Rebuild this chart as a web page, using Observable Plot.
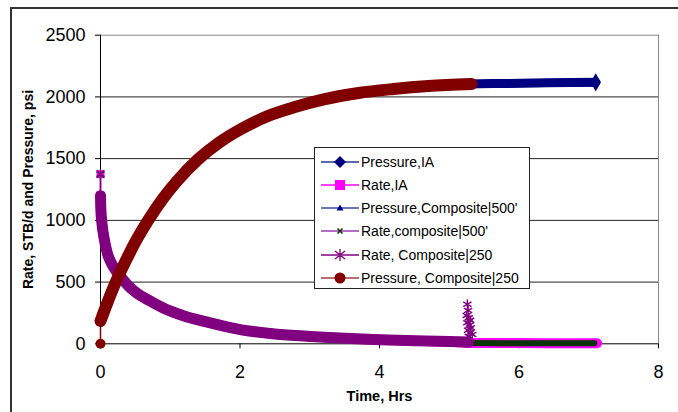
<!DOCTYPE html>
<html><head><meta charset="utf-8">
<script src="https://cdn.jsdelivr.net/npm/d3@7"></script>
<script src="https://cdn.jsdelivr.net/npm/@observablehq/plot@0.6"></script>
<style>
body{margin:0;background:#fff;font-family:"Liberation Sans",Arial,sans-serif;}
#wrap{position:relative;width:678px;height:412px;overflow:hidden;background:#fff;}
#border{position:absolute;left:10px;top:7px;width:800px;height:600px;border-left:2px solid #333;border-top:2px solid #333;}
#chart{position:absolute;left:0;top:0;}
#legend{position:absolute;left:314px;top:147px;width:216px;height:142px;border:1px solid #222;background:#fff;box-sizing:border-box;}
.row{position:absolute;left:0;height:20px;font-size:14px;color:#000;white-space:nowrap;}
.row svg{position:absolute;left:5px;top:0;}
.row span{position:absolute;left:46px;top:2px;line-height:16px;}
</style></head>
<body>
<div id="wrap"><div id="border"></div><div id="chart"></div><div id="legend"></div></div>
<script>
// ---- data ----
const xTicks = [0, 2, 4, 6, 8];
const yTicks = [0, 500, 1000, 1500, 2000, 2500];

// Pressure, Composite|250 (psi)
const pTime250 = [0, 0, 0.1, 0.2, 0.3, 0.4, 0.5, 0.7, 0.9, 1.1, 1.4, 1.7, 2.0, 2.4, 2.8, 3.2, 3.7, 4.2, 4.7, 5.32];
const pVal250  = [0, 185, 335, 475, 600, 715, 825, 1015, 1180, 1320, 1495, 1630, 1735, 1845, 1920, 1980, 2032, 2064, 2088, 2105];

// Pressure, IA (psi)
const pTimeIA = [0, 0, 0.1, 0.2, 0.3, 0.4, 0.5, 0.7, 0.9, 1.1, 1.4, 1.7, 2.0, 2.4, 2.8, 3.2, 3.7, 4.2, 4.7, 5.3, 5.8, 6.4, 7.1];
const pValIA  = [0, 185, 335, 475, 600, 715, 825, 1015, 1180, 1320, 1497, 1633, 1740, 1850, 1926, 1987, 2038, 2070, 2093, 2105, 2109, 2114, 2118];

// Pressure, Composite|500' (psi)
const pTime500 = [0, 0, 0.1, 0.2, 0.3, 0.4, 0.5, 0.7, 0.9, 1.1, 1.4, 1.7, 2.0, 2.4, 2.8, 3.2, 3.7, 4.2, 4.7, 5.3, 5.8, 6.4, 7.1];
const pVal500  = [0, 185, 335, 475, 600, 715, 825, 1015, 1180, 1320, 1496, 1632, 1738, 1848, 1924, 1984, 2036, 2068, 2091, 2104, 2108, 2113, 2117];

// Rate, Composite|250 (STB/d)
const qTime250 = [0, 0, 0.005, 0.02, 0.05, 0.1, 0.15, 0.2, 0.3, 0.4, 0.5, 0.7, 0.9, 1.2, 1.5, 2.0, 2.5, 3.0, 3.5, 4.0, 4.5, 5.0, 5.28];
const qVal250  = [1375, 1200, 1090, 980, 860, 730, 660, 610, 535, 470, 420, 350, 290, 225, 180, 115, 80, 60, 45, 33, 25, 18, 15];
// Rate, Composite|250 – restart spike near 5.3 hr
const spikeTime = [5.26, 5.27, 5.25, 5.28, 5.30, 5.26, 5.29, 5.31, 5.27, 5.30, 5.33, 5.28];
const spikeVal  = [320, 270, 230, 210, 190, 170, 150, 130, 110, 90, 75, 60];

// Rate, IA (STB/d)
const qTimeIA = [0, 0, 0.005, 0.02, 0.05, 0.1, 0.15, 0.2, 0.3, 0.4, 0.5, 0.7, 0.9, 1.2, 1.5, 2.0, 2.5, 3.0, 3.5, 4.0, 4.5, 5.0, 5.3, 5.8, 6.4, 7.12];
const qValIA  = [1375, 1200, 1090, 980, 860, 730, 660, 610, 535, 470, 420, 350, 290, 225, 180, 115, 80, 60, 45, 33, 25, 18, 7, 6, 5, 5];

// Rate, composite|500' (STB/d)
const qTime500 = [0, 0, 0.005, 0.02, 0.05, 0.1, 0.15, 0.2, 0.3, 0.4, 0.5, 0.7, 0.9, 1.2, 1.5, 2.0, 2.5, 3.0, 3.5, 4.0, 4.5, 5.0, 5.3, 5.8, 6.4, 7.08];
const qVal500  = [1375, 1200, 1090, 980, 860, 730, 660, 610, 535, 470, 420, 350, 290, 225, 180, 115, 80, 60, 45, 33, 25, 18, 6, 5, 5, 5];

const seriesNames = ["Pressure,IA", "Rate,IA", "Pressure,Composite|500'", "Rate,composite|500'", "Rate, Composite|250", "Pressure, Composite|250"];

// ---- build tables ----
const tbl = (ts, vs) => ts.map((t, i) => ({t, v: vs[i]}));
const P250 = tbl(pTime250, pVal250), PIA = tbl(pTimeIA, pValIA), P500 = tbl(pTime500, pVal500);
const Q250 = tbl(qTime250, qVal250), QIA = tbl(qTimeIA, qValIA), Q500 = tbl(qTime500, qVal500);
const SP = tbl(spikeTime, spikeVal);

const NAVY = "#000080", MAG = "#ff00ff", PURP = "#800080", GREEN = "#0a3300", RED = "#800000";

const chart = Plot.plot({
  width: 678, height: 412,
  marginLeft: 100, marginRight: 20, marginTop: 34.7, marginBottom: 68.7,
  style: {fontFamily: "'Liberation Sans', Arial, sans-serif", background: "transparent", color: "#000"},
  x: {domain: [0, 8]},
  y: {domain: [0, 2500]},
  marks: [
    Plot.ruleY(yTicks.filter(v => v > 0 && v < 2500), {stroke: "#222", strokeWidth: 1}),
    Plot.ruleY([2500], {stroke: "#888"}),
    Plot.ruleX([8], {stroke: "#888"}),
    Plot.axisY({ticks: yTicks, tickFormat: d => String(d), tickSize: 5, tickPadding: 10, fontSize: 18, label: null}),
    Plot.axisX({ticks: xTicks, tickFormat: d => String(d), tickSize: 5, tickPadding: 16, fontSize: 18, label: null}),
    Plot.ruleX([0], {stroke: "#000"}),
    Plot.ruleY([0], {stroke: "#000"}),
    // Pressure, IA
    Plot.line(PIA.slice(1), {x: "t", y: "v", stroke: NAVY, strokeWidth: 9, curve: "monotone-x"}),
    Plot.dot(PIA.slice(-1), {x: "t", y: "v", symbol: "diamond", r: 5.5, fill: NAVY}),
    // Rate, IA
    Plot.line(QIA, {x: "t", y: "v", stroke: MAG, strokeWidth: 1.5}),
    Plot.line(QIA.slice(1), {x: "t", y: "v", stroke: MAG, strokeWidth: 10, curve: "monotone-x"}),
    Plot.dot(QIA.slice(0, 3), {x: "t", y: "v", symbol: "square", r: 4.5, fill: MAG}),
    // Pressure, Composite|500'
    Plot.line(P500.slice(1), {x: "t", y: "v", stroke: NAVY, strokeWidth: 8, curve: "monotone-x"}),
    // Rate, composite|500'
    Plot.line(Q500, {x: "t", y: "v", stroke: PURP, strokeWidth: 1.2}),
    Plot.line(Q500.slice(1), {x: "t", y: "v", stroke: GREEN, strokeWidth: 6, curve: "monotone-x"}),
    Plot.dot(Q500.slice(0, 2), {x: "t", y: "v", symbol: "times", r: 3.5, stroke: GREEN, strokeWidth: 1.2}),
    // Rate, Composite|250
    Plot.line(Q250, {x: "t", y: "v", stroke: PURP, strokeWidth: 1.5}),
    Plot.line(Q250.slice(1), {x: "t", y: "v", stroke: PURP, strokeWidth: 11, curve: "monotone-x"}),
    Plot.dot(Q250.slice(0, 3), {x: "t", y: "v", symbol: "asterisk", r: 4.5, stroke: PURP, strokeWidth: 1.2}),
    Plot.dot(SP, {x: "t", y: "v", symbol: "asterisk", r: 4.5, stroke: PURP, strokeWidth: 1.5}),
    // Pressure, Composite|250
    Plot.line(P250, {x: "t", y: "v", stroke: RED, strokeWidth: 1.5}),
    Plot.line(P250.slice(1), {x: "t", y: "v", stroke: RED, strokeWidth: 12, strokeLinecap: "round", curve: "monotone-x"}),
    Plot.dot(P250.slice(0, 1), {x: "t", y: "v", r: 5, fill: RED}),
    // axis titles
    Plot.text(["Time, Hrs"], {text: d => d, frameAnchor: "bottom", dy: 53, fontWeight: "bold", fontSize: 14.5, textAnchor: "middle", lineAnchor: "middle"}),
    Plot.text(["Rate, STB/d and Pressure, psi"], {text: d => d, frameAnchor: "left", dx: -72, rotate: -90, fontWeight: "bold", fontSize: 14, textAnchor: "middle", lineAnchor: "middle"})
  ]
});
document.getElementById("chart").appendChild(chart);

// ---- legend ----
const legendStyle = [
  {line: "#2a3590", sym: "diamond", color: NAVY},
  {line: MAG, sym: "square", color: MAG},
  {line: "#3a48a0", sym: "triangle", color: NAVY},
  {line: "#9a3ab0", sym: "times", color: GREEN},
  {line: PURP, sym: "asterisk", color: PURP},
  {line: "#a04040", sym: "circle", color: RED}
];
const symSvg = (s, c) => {
  const cx = 20, cy = 10;
  switch (s) {
    case "diamond": return `<polygon points="${cx},${cy-6} ${cx+6},${cy} ${cx},${cy+6} ${cx-6},${cy}" fill="${c}"/>`;
    case "square": return `<rect x="${cx-5}" y="${cy-5}" width="10" height="10" fill="${c}"/>`;
    case "triangle": return `<polygon points="${cx},${cy-3.5} ${cx+3.5},${cy+2.5} ${cx-3.5},${cy+2.5}" fill="${c}"/>`;
    case "times": return `<path d="M${cx-2.5},${cy-2.5}L${cx+2.5},${cy+2.5}M${cx+2.5},${cy-2.5}L${cx-2.5},${cy+2.5}" stroke="${c}" stroke-width="1.5"/>`;
    case "asterisk": return `<path d="M${cx},${cy-6}L${cx},${cy+6}M${cx-5},${cy-4}L${cx+5},${cy+4}M${cx+5},${cy-4}L${cx-5},${cy+4}" stroke="${c}" stroke-width="1.3"/>`;
    case "circle": return `<circle cx="${cx}" cy="${cy}" r="5.5" fill="${c}"/>`;
  }
};
const leg = document.getElementById("legend");
seriesNames.forEach((name, i) => {
  const st = legendStyle[i];
  const row = document.createElement("div");
  row.className = "row";
  row.style.top = (3.7 + i * 23.2) + "px";
  row.style.width = "214px";
  row.innerHTML = `<svg width="42" height="20"><line x1="1" y1="10" x2="39" y2="10" stroke="${st.line}" stroke-width="1.3"/>${symSvg(st.sym, st.color)}</svg><span>${name}</span>`;
  leg.appendChild(row);
});
</script>
</body></html>
